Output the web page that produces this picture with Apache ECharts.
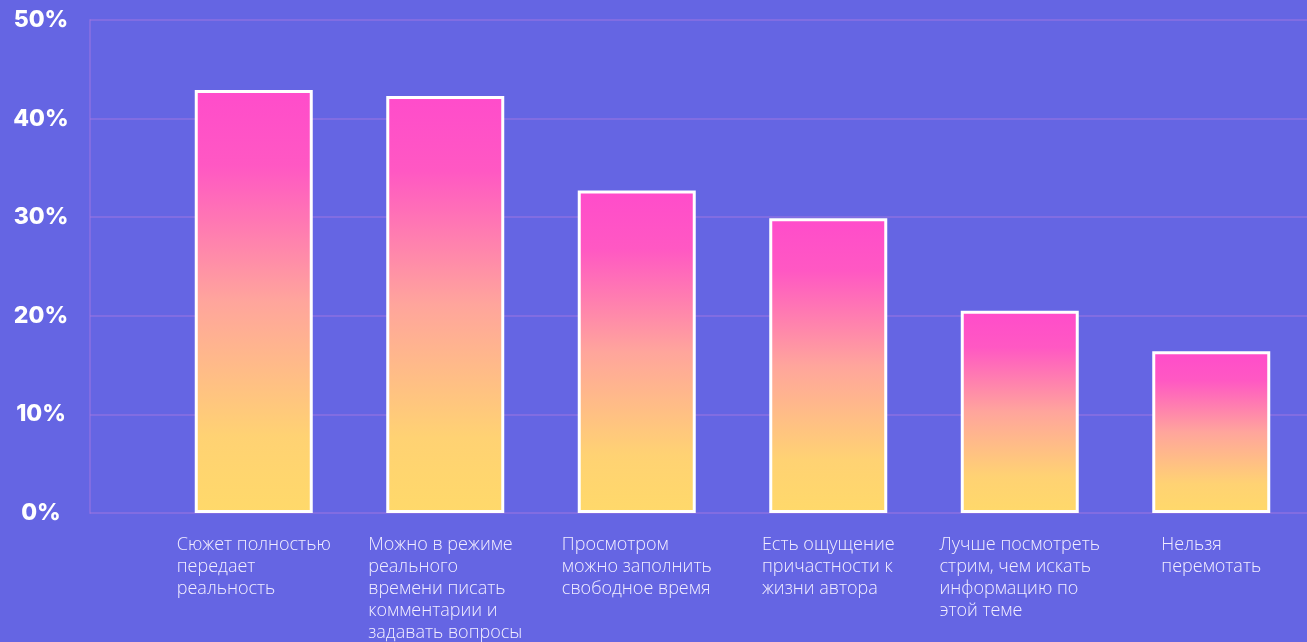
<!DOCTYPE html>
<html><head><meta charset="utf-8">
<script src="https://cdn.jsdelivr.net/npm/echarts@6/dist/echarts.min.js"></script>
<style>html,body{margin:0;padding:0;background:#6565e3;}#c{width:1307px;height:642px;}</style>
</head><body><div id="c"></div>
<script>
var categories = [
  ['Сюжет полностью','передает','реальность'],
  ['Можно в режиме','реального','времени писать','комментарии и','задавать вопросы'],
  ['Просмотром','можно заполнить','свободное время'],
  ['Есть ощущение','причастности к','жизни автора'],
  ['Лучше посмотреть','стрим, чем искать','информацию по','этой теме'],
  ['Нельзя','перемотать']
];
var values = [42.9, 42.3, 32.7, 29.9, 20.5, 16.4];
var yTicks = [0, 10, 20, 30, 40, 50];

var gridColor = 'rgba(165,120,225,0.45)';
var chart = echarts.init(document.getElementById('c'));
var grad = new echarts.graphic.LinearGradient(0,0,0,1,[
  {offset:0,color:'#ff4ccb'},{offset:0.18,color:'#ff58c3'},
  {offset:0.5,color:'#ffa59c'},{offset:0.82,color:'#ffd273'},{offset:1,color:'#ffd96a'}
]);
chart.setOption({
  backgroundColor:'#6565e3',
  grid:[
    {left:158,right:0,top:20,bottom:129},
    {left:90,width:68,top:20,bottom:129}
  ],
  xAxis:[
    {type:'category',gridIndex:0,data:categories.map(function(c){return c.join('\n');}),
     axisLine:{show:false},axisTick:{show:false},
     axisLabel:{margin:21,interval:0,
       formatter:function(v){return v.split('\n').map(function(l){return '{a|'+l+'}';}).join('\n');},
       rich:{a:{align:'left',color:'#f2eeff',fontFamily:'Open Sans',fontWeight:300,fontSize:18,lineHeight:22}}}},
    {type:'category',gridIndex:1,data:[''],show:false}
  ],
  yAxis:[
    {type:'value',gridIndex:0,min:0,max:50,interval:10,
     axisLabel:{show:false},axisLine:{show:false},axisTick:{show:false},
     splitLine:{lineStyle:{color:gridColor,width:2}}},
    {type:'value',gridIndex:1,min:0,max:50,interval:10,
     axisLine:{show:true,lineStyle:{color:gridColor,width:2}},axisTick:{show:false},
     splitLine:{lineStyle:{color:gridColor,width:2}},
     axisLabel:{margin:49,align:'center',color:'#ffffff',fontFamily:'Inter',fontWeight:800,fontSize:23,
       formatter:function(v){return yTicks.indexOf(v)>=0? v+'%':'';}}}
  ],
  series:[{
    type:'bar',xAxisIndex:0,yAxisIndex:0,data:values,barWidth:118,
    itemStyle:{color:grad,borderColor:'#ffffff',borderWidth:3},
    animation:false
  }],
  animation:false
});
</script></body></html>
